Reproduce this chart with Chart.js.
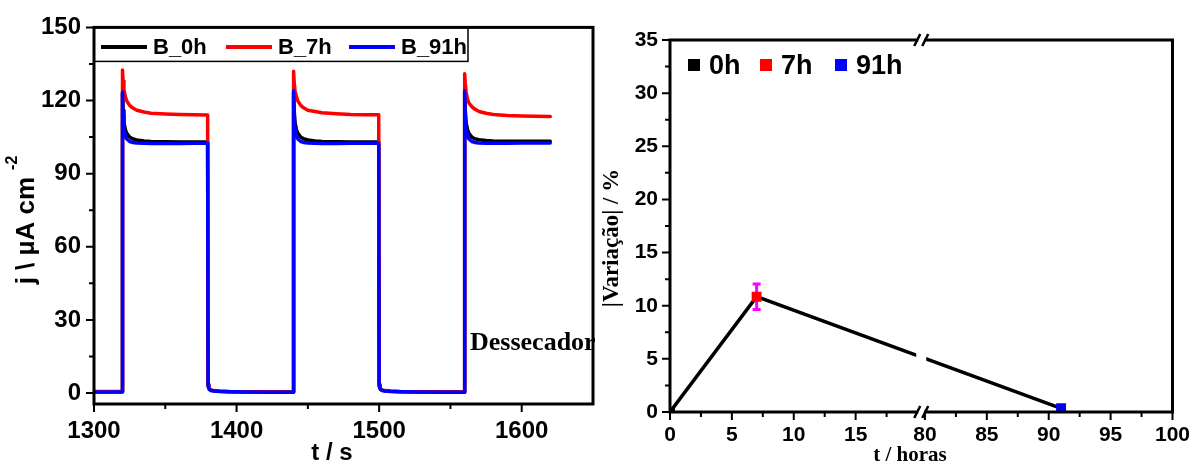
<!DOCTYPE html>
<html><head><meta charset="utf-8">
<script src="https://cdn.jsdelivr.net/npm/chart.js@4/dist/chart.umd.min.js"></script>
<style>
html,body{margin:0;padding:0;background:#fff;}
#wrap{position:relative;width:1201px;height:466px;overflow:hidden;}
#c1{position:absolute;left:0;top:0;width:600px;height:466px;}
#c2{position:absolute;left:600px;top:0;width:601px;height:466px;}
</style></head><body>
<div id="wrap"><canvas id="c1" width="600" height="466"></canvas><canvas id="c2" width="601" height="466"></canvas></div>
<script>
// ---------------- LEFT CHART DATA ----------------
const timeS = [
  1300, 1319.7,
  1320, 1320.4, 1321, 1322, 1323, 1325, 1327, 1330, 1335, 1340, 1350, 1360, 1370, 1379.7,
  1380, 1380.5, 1381, 1382, 1384, 1388, 1395, 1410, 1425, 1439.7,
  1440, 1440.4, 1441, 1442, 1443, 1445, 1447, 1450, 1455, 1460, 1470, 1480, 1490, 1499.7,
  1500, 1500.5, 1501, 1502, 1504, 1508, 1515, 1530, 1545, 1559.7,
  1560, 1560.4, 1561, 1562, 1563, 1565, 1567, 1570, 1575, 1580, 1590, 1600, 1610, 1620
];
const jB0h = [
  0.5, 0.5,
  123, 116, 111, 108, 106.5, 105, 104.3, 103.8, 103.4, 103.2, 103.1, 103.0, 103.0, 103.0,
  3.5, 2.2, 1.6, 1.2, 0.9, 0.7, 0.55, 0.45, 0.4, 0.4,
  123.5, 116, 111, 108, 106.5, 105, 104.3, 103.8, 103.4, 103.2, 103.1, 103.0, 103.0, 103.0,
  3.5, 2.2, 1.6, 1.2, 0.9, 0.7, 0.55, 0.45, 0.4, 0.4,
  123.5, 116, 111, 108, 106.5, 105, 104.3, 103.9, 103.6, 103.4, 103.3, 103.3, 103.3, 103.3
];
const jB7h = [
  0.6, 0.6,
  132.5, 128, 124.5, 121.5, 119.8, 118, 117, 116, 115.3, 114.8, 114.5, 114.3, 114.2, 114.1,
  3.5, 2.3, 1.7, 1.3, 1.0, 0.8, 0.6, 0.5, 0.45, 0.45,
  132, 127.5, 124, 121.5, 119.8, 118, 117, 116, 115.5, 115, 114.6, 114.3, 114.2, 114.2,
  3.5, 2.3, 1.7, 1.3, 1.0, 0.8, 0.6, 0.5, 0.45, 0.45,
  131, 127, 123.5, 120.5, 119, 117.5, 116.5, 115.5, 114.8, 114.3, 113.9, 113.7, 113.5, 113.4
];
const jB91h = [
  0.4, 0.4,
  123.5, 114, 108.5, 105.5, 104.2, 103.2, 102.8, 102.6, 102.5, 102.4, 102.4, 102.4, 102.5, 102.5,
  3.0, 2.0, 1.4, 1.0, 0.8, 0.6, 0.5, 0.4, 0.35, 0.35,
  124, 114, 108.5, 105.5, 104.2, 103.2, 102.8, 102.6, 102.5, 102.4, 102.4, 102.5, 102.5, 102.5,
  3.0, 2.0, 1.4, 1.0, 0.8, 0.6, 0.5, 0.4, 0.35, 0.35,
  124, 114, 108.5, 105.5, 104.2, 103.2, 102.8, 102.6, 102.5, 102.5, 102.5, 102.6, 102.6, 102.6
];
const seriesNames = ['B_0h', 'B_7h', 'B_91h'];
const seriesColors = ['#000000', '#ff0000', '#0000ff'];
const xTicksLeft = [1300, 1400, 1500, 1600];
const xMinorLeft = [1350, 1450, 1550];
const yTicksLeft = [0, 30, 60, 90, 120, 150];
const yMinorLeft = [15, 45, 75, 105, 135];

// ---------------- RIGHT CHART DATA ----------------
const hours = [0, 7, 91];
const variation = [0, 10.85, 0.35];
const variationErr = [0, 1.2, 0];
const pointNames = ['0h', '7h', '91h'];
const pointColors = ['#000000', '#ff0000', '#0000ff'];
const xTicksRightHours = [0, 5, 10, 15, 80, 85, 90, 95, 100];
const xMinorRightHours = [2.5, 7.5, 12.5, 17.5, 82.5, 87.5, 92.5, 97.5];
const yTicksRight = [0, 5, 10, 15, 20, 25, 30, 35];
const yMinorRight = [2.5, 7.5, 12.5, 17.5, 22.5, 27.5, 32.5];
const BREAK_FROM = 20, BREAK_TO = 80, BREAK_GAP = 0.6;
function breakAxis(h) { return h <= BREAK_FROM ? h : h - BREAK_TO + BREAK_FROM + BREAK_GAP; }

const SANS = "'Liberation Sans', Arial, sans-serif";
const SERIF = "'Liberation Serif', 'Times New Roman', serif";
Chart.defaults.color = '#000';
Chart.defaults.animation = false;

function frameDraw(chart, xMaj, xMin, yMaj, yMin) {
  const ctx = chart.ctx, a = chart.chartArea;
  const xs = chart.scales.x, ys = chart.scales.y;
  ctx.save();
  ctx.strokeStyle = '#000';
  ctx.lineWidth = 2;
  ctx.beginPath();
  xMaj.forEach(v => { const p = xs.getPixelForValue(v); ctx.moveTo(p, a.bottom); ctx.lineTo(p, a.bottom + 8); });
  xMin.forEach(v => { const p = xs.getPixelForValue(v); ctx.moveTo(p, a.bottom); ctx.lineTo(p, a.bottom + 5); });
  yMaj.forEach(v => { const p = ys.getPixelForValue(v); ctx.moveTo(a.left, p); ctx.lineTo(a.left - 8, p); });
  yMin.forEach(v => { const p = ys.getPixelForValue(v); ctx.moveTo(a.left, p); ctx.lineTo(a.left - 5, p); });
  ctx.stroke();
  ctx.lineWidth = 3;
  ctx.strokeRect(a.left, a.top, a.right - a.left, a.bottom - a.top);
  ctx.restore();
}

// ---------------- LEFT CHART ----------------
const leftPlugin = {
  id: 'leftDeco',
  afterDraw(chart) {
    const ctx = chart.ctx, a = chart.chartArea;
    frameDraw(chart, xTicksLeft, xMinorLeft, yTicksLeft, yMinorLeft);
    ctx.save();
    // legend box
    ctx.lineWidth = 1.5;
    ctx.strokeStyle = '#000';
    ctx.strokeRect(a.left, a.top, 374, 34);
    const lx = [101, 226, 349];
    ctx.font = 'bold 22px ' + SANS;
    ctx.textBaseline = 'middle';
    ctx.textAlign = 'left';
    seriesNames.forEach((n, i) => {
      ctx.strokeStyle = seriesColors[i];
      ctx.lineWidth = 4;
      ctx.beginPath(); ctx.moveTo(lx[i], 47); ctx.lineTo(lx[i] + 46, 47); ctx.stroke();
      ctx.fillStyle = '#000';
      ctx.fillText(n, lx[i] + 52, 48);
    });
    // x title
    ctx.font = 'bold 24px ' + SANS;
    ctx.textAlign = 'center';
    ctx.fillText('t / s', 332, 453);
    // y title
    ctx.save();
    ctx.translate(27, 220);
    ctx.rotate(-Math.PI / 2);
    ctx.font = 'bold 26px ' + SANS;
    const main = 'j \\ \u00b5A cm';
    const w = ctx.measureText(main).width;
    ctx.font = 'bold 16px ' + SANS;
    const ws = ctx.measureText('-2').width;
    const tot = w + 7 + ws;
    ctx.textAlign = 'left';
    ctx.font = 'bold 26px ' + SANS;
    ctx.fillText(main, -tot / 2, 0);
    ctx.font = 'bold 16px ' + SANS;
    ctx.fillText('-2', -tot / 2 + w + 7, -14);
    ctx.restore();
    // annotation
    ctx.font = 'bold 26px ' + SERIF;
    ctx.textAlign = 'left';
    ctx.textBaseline = 'alphabetic';
    ctx.fillStyle = '#000';
    ctx.fillText('Dessecador', 470, 350);
    ctx.restore();
  }
};

const mk = (t, v) => t.map((x, i) => ({ x: x, y: v[i] }));
const lineStyle = { borderWidth: 3.5, pointRadius: 0, borderJoinStyle: 'round', borderCapStyle: 'round' };
new Chart(document.getElementById('c1'), {
  type: 'line',
  data: {
    datasets: [
      Object.assign({ label: seriesNames[0], data: mk(timeS, jB0h), borderColor: seriesColors[0], order: 3 }, lineStyle),
      Object.assign({ label: seriesNames[1], data: mk(timeS, jB7h), borderColor: seriesColors[1], order: 2 }, lineStyle),
      Object.assign({ label: seriesNames[2], data: mk(timeS, jB91h), borderColor: seriesColors[2], order: 1 }, lineStyle)
    ]
  },
  options: {
    responsive: false, maintainAspectRatio: false,
    layout: { padding: { top: 25, right: 7, left: 0, bottom: 0 } },
    plugins: { legend: { display: false }, tooltip: { enabled: false } },
    scales: {
      x: {
        type: 'linear', min: 1300, max: 1650,
        afterBuildTicks: s => { s.ticks = xTicksLeft.map(v => ({ value: v })); },
        afterFit: s => { s.height = 62; },
        grid: { display: false, drawTicks: false }, border: { display: false },
        ticks: { font: { family: SANS, size: 24, weight: 'bold' }, color: '#000', padding: 13, maxRotation: 0,
          callback: (v) => String(v) }
      },
      y: {
        type: 'linear', min: -4.5, max: 150,
        afterBuildTicks: s => { s.ticks = yTicksLeft.map(v => ({ value: v })); },
        afterFit: s => { s.width = 94; },
        grid: { display: false, drawTicks: false }, border: { display: false },
        ticks: { font: { family: SANS, size: 24, weight: 'bold' }, color: '#000', padding: 13,
          callback: (v) => String(v) }
      }
    }
  },
  plugins: [leftPlugin]
});

// ---------------- RIGHT CHART ----------------
const rightPlugin = {
  id: 'rightDeco',
  beforeDatasetsDraw(chart) {
    const ctx = chart.ctx, xs = chart.scales.x, ys = chart.scales.y;
    ctx.save();
    ctx.strokeStyle = '#ff00ff';
    ctx.lineWidth = 3;
    hours.forEach((h, i) => {
      if (!variationErr[i]) return;
      const px = xs.getPixelForValue(breakAxis(h));
      const t = ys.getPixelForValue(variation[i] + variationErr[i]);
      const b = ys.getPixelForValue(variation[i] - variationErr[i]);
      ctx.beginPath();
      ctx.moveTo(px, t); ctx.lineTo(px, b);
      ctx.moveTo(px - 4, t); ctx.lineTo(px + 4, t);
      ctx.moveTo(px - 4, b); ctx.lineTo(px + 4, b);
      ctx.stroke();
    });
    ctx.restore();
  },
  afterDatasetsDraw(chart) {
    const ctx = chart.ctx, a = chart.chartArea, xs = chart.scales.x;
    const bx = (xs.getPixelForValue(BREAK_FROM) + xs.getPixelForValue(BREAK_FROM + BREAK_GAP)) / 2;
    ctx.save();
    ctx.fillStyle = '#fff';
    ctx.fillRect(bx - 5, a.top + 3, 10, a.bottom - a.top - 6);
    ctx.restore();
  },
  afterDraw(chart) {
    const ctx = chart.ctx, a = chart.chartArea, xs = chart.scales.x;
    frameDraw(chart, xTicksRightHours.map(breakAxis), xMinorRightHours.map(breakAxis), yTicksRight, yMinorRight);
    const bx = (xs.getPixelForValue(BREAK_FROM) + xs.getPixelForValue(BREAK_FROM + BREAK_GAP)) / 2;
    ctx.save();
    [a.top, a.bottom].forEach(y => {
      ctx.fillStyle = '#fff';
      ctx.fillRect(bx - 3, y - 3, 6, 6);
      ctx.strokeStyle = '#000';
      ctx.lineWidth = 2.5;
      ctx.beginPath();
      ctx.moveTo(bx - 7, y + 6); ctx.lineTo(bx - 1, y - 6);
      ctx.moveTo(bx + 1, y + 6); ctx.lineTo(bx + 7, y - 6);
      ctx.stroke();
    });
    // legend
    const mx = [694, 766, 841];
    ctx.font = 'bold 27px ' + SANS;
    ctx.textBaseline = 'alphabetic';
    ctx.textAlign = 'left';
    pointNames.forEach((n, i) => {
      ctx.fillStyle = pointColors[i];
      ctx.fillRect(mx[i] - 600 - 6, 59, 12, 12);
      ctx.fillStyle = '#000';
      ctx.fillText(n, mx[i] - 600 + 15, 74);
    });
    // x title
    ctx.font = 'bold 21px ' + SERIF;
    ctx.textAlign = 'center';
    ctx.textBaseline = 'middle';
    ctx.fillText('t / horas', 310, 456);
    // y title
    ctx.save();
    ctx.translate(12, 238);
    ctx.rotate(-Math.PI / 2);
    ctx.font = 'bold 23px ' + SERIF;
    ctx.fillText('|Varia\u00e7\u00e3o| / %', 0, 0);
    ctx.restore();
    ctx.restore();
  }
};

new Chart(document.getElementById('c2'), {
  type: 'line',
  data: {
    datasets: [{
      label: '|Variação|',
      data: hours.map((h, i) => ({ x: breakAxis(h), y: variation[i] })),
      borderColor: '#000', borderWidth: 3.5,
      pointStyle: 'rect', pointRadius: 7,
      pointBackgroundColor: pointColors, pointBorderColor: pointColors, pointBorderWidth: 0
    }]
  },
  options: {
    responsive: false, maintainAspectRatio: false,
    layout: { padding: { top: 40, right: 28, left: 0, bottom: 0 } },
    plugins: { legend: { display: false }, tooltip: { enabled: false } },
    scales: {
      x: {
        type: 'linear', min: 0, max: breakAxis(100),
        afterBuildTicks: s => { s.ticks = xTicksRightHours.map(h => ({ value: breakAxis(h) })); },
        afterFit: s => { s.height = 54; },
        grid: { display: false, drawTicks: false }, border: { display: false },
        ticks: { font: { family: SANS, size: 21, weight: 'bold' }, color: '#000', padding: 11, maxRotation: 0,
          callback: (v, i) => String(xTicksRightHours[i]) }
      },
      y: {
        type: 'linear', min: 0, max: 35,
        afterBuildTicks: s => { s.ticks = yTicksRight.map(v => ({ value: v })); },
        afterFit: s => { s.width = 70; },
        grid: { display: false, drawTicks: false }, border: { display: false },
        ticks: { font: { family: SANS, size: 21, weight: 'bold' }, color: '#000', padding: 12 }
      }
    }
  },
  plugins: [rightPlugin]
});
</script>
</body></html>
